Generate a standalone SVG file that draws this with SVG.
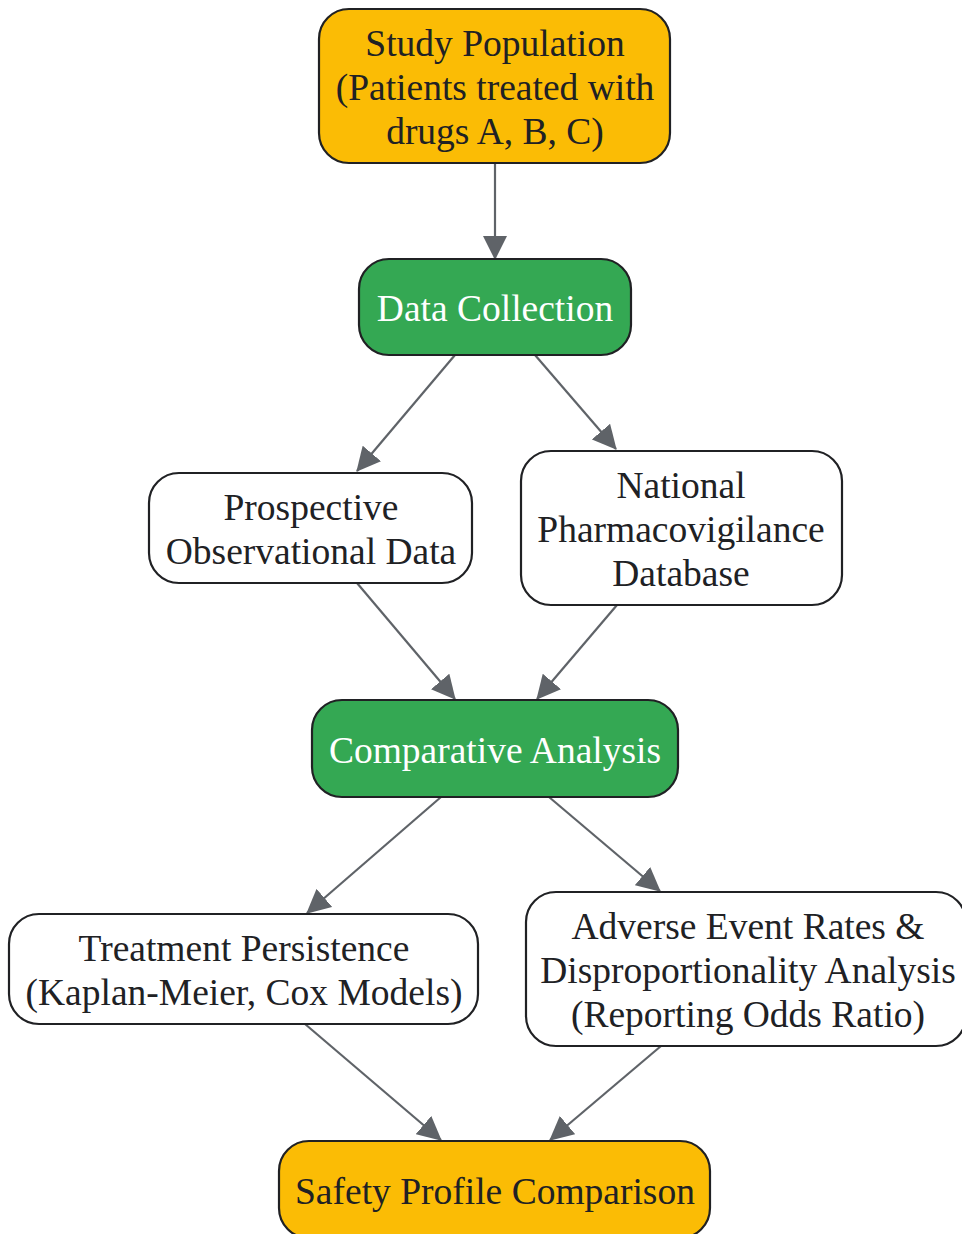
<svg xmlns="http://www.w3.org/2000/svg" width="962" height="1234" viewBox="0 0 962 1234">
<style>
.n rect{stroke:#202124;stroke-width:2.2}
.y rect{fill:#FBBC05}
.g rect{fill:#34A853}
.w rect{fill:#FFFFFF}
text{font-family:"Liberation Serif","Times New Roman",serif;font-size:37.5px;text-anchor:middle;fill:#202124}
.g text{fill:#FFFFFF}
#edges line{stroke:#5F6368;stroke-width:2.2;marker-end:url(#ah)}
</style>
<defs>
<marker id="ah" markerUnits="userSpaceOnUse" markerWidth="24" markerHeight="24" refX="23" refY="12" orient="auto" viewBox="0 0 24 24">
<path d="M0,0 L24,12 L0,24 z" fill="#5F6368"/>
</marker>
</defs>
<rect width="962" height="1234" fill="#FFFFFF"/>
<g id="edges">
<line x1="495" y1="163" x2="495" y2="259"/>
<line x1="455" y1="355" x2="357" y2="471"/>
<line x1="535" y1="355" x2="616" y2="449"/>
<line x1="357" y1="583" x2="455" y2="699"/>
<line x1="617" y1="605" x2="537" y2="699"/>
<line x1="441" y1="797" x2="307" y2="913"/>
<line x1="549" y1="797" x2="660" y2="891"/>
<line x1="305" y1="1024" x2="441" y2="1140"/>
<line x1="661" y1="1046" x2="550" y2="1140"/>
</g>
<g id="study" class="n y">
<rect x="319" y="9" width="351" height="154" rx="30"/>
<text x="495" y="56">Study Population</text>
<text x="495" y="100">(Patients treated with</text>
<text x="495" y="144">drugs A, B, C)</text>
</g>
<g id="collect" class="n g">
<rect x="359" y="259" width="272" height="96" rx="30"/>
<text x="495" y="321">Data Collection</text>
</g>
<g id="prosp" class="n w">
<rect x="149" y="473" width="323" height="110" rx="30"/>
<text x="311" y="520">Prospective</text>
<text x="311" y="564">Observational Data</text>
</g>
<g id="natl" class="n w">
<rect x="521" y="451" width="321" height="154" rx="30"/>
<text x="681" y="498">National</text>
<text x="681" y="542">Pharmacovigilance</text>
<text x="681" y="586">Database</text>
</g>
<g id="compar" class="n g">
<rect x="312" y="700" width="366" height="97" rx="30"/>
<text x="495" y="763">Comparative Analysis</text>
</g>
<g id="persist" class="n w">
<rect x="9" y="914" width="469" height="110" rx="30"/>
<text x="244" y="961">Treatment Persistence</text>
<text x="244" y="1005">(Kaplan-Meier, Cox Models)</text>
</g>
<g id="adverse" class="n w">
<rect x="526" y="892" width="440" height="154" rx="30"/>
<text x="748" y="939">Adverse Event Rates &amp;</text>
<text x="748" y="983">Disproportionality Analysis</text>
<text x="748" y="1027">(Reporting Odds Ratio)</text>
</g>
<g id="safety" class="n y">
<rect x="279" y="1141" width="431" height="97" rx="30"/>
<text x="495" y="1204">Safety Profile Comparison</text>
</g>
</svg>
